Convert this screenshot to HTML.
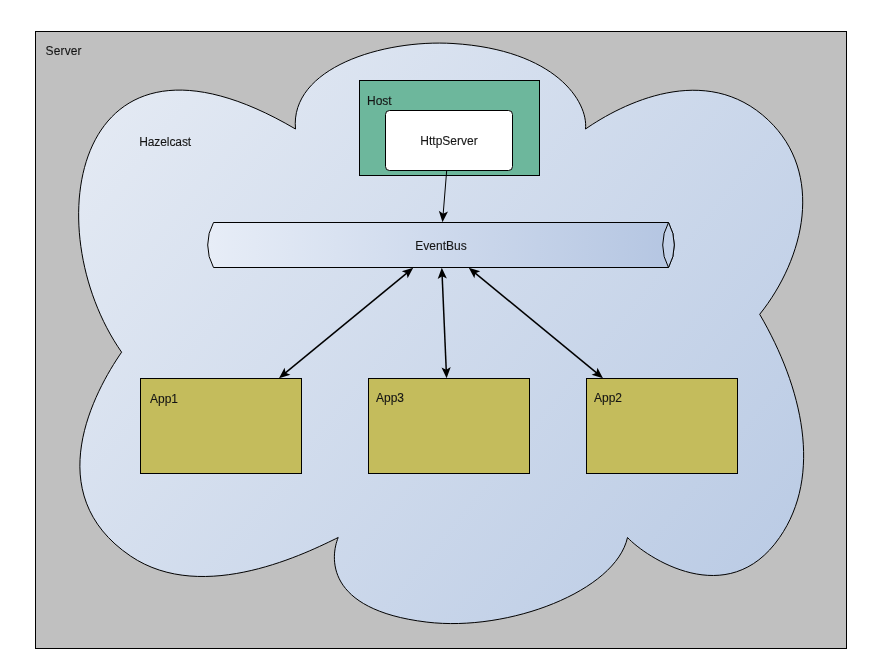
<!DOCTYPE html>
<html>
<head>
<meta charset="utf-8">
<title>Diagram</title>
<style>
html,body{margin:0;padding:0;background:#ffffff;}
body{width:881px;height:667px;overflow:hidden;}
svg{display:block;}
text{font-family:"Liberation Sans",sans-serif;font-size:12px;fill:#141414;stroke:#141414;stroke-width:0.1px;filter:url(#tf);}
</style>
</head>
<body>
<svg width="881" height="667" viewBox="0 0 881 667">
  <defs>
    <linearGradient id="gCloud" gradientUnits="userSpaceOnUse" x1="51" y1="14" x2="792" y2="622">
      <stop offset="0" stop-color="#e8edf5"/>
      <stop offset="1" stop-color="#b9cae4"/>
    </linearGradient>
    <linearGradient id="gPipe" gradientUnits="userSpaceOnUse" x1="208" y1="0" x2="668" y2="0">
      <stop offset="0" stop-color="#e7edf7"/>
      <stop offset="1" stop-color="#b5c6e2"/>
    </linearGradient>
    <filter id="tf" x="-5%" y="-50%" width="110%" height="200%" color-interpolation-filters="sRGB"><feOffset dx="0" dy="0"/></filter>
  </defs>

  <!-- Server -->
  <rect x="35.5" y="31.5" width="811" height="617" fill="#c0c0c0" stroke="#000" stroke-width="1"/>
  <text x="45.6" y="55" textLength="36" lengthAdjust="spacing">Server</text>

  <!-- Hazelcast cloud -->
  <path d="M121.6 352.2 C34.7 227.8 73.3 -1.5 295.5 129.0 C289.8 67.9 382.9 39.2 453.0 43.5 C555.6 49.8 588.4 101.8 585.5 129.0 C621.0 104.4 705.6 60.5 768.4 120.2 C824.4 173.3 804.9 257.8 759.7 314.3 C802.4 387.4 823.0 475.0 779.5 537.6 C727.8 612.2 645.6 557.0 627.5 537.5 C615.7 591.0 508.8 632.0 426.8 622.1 C323.7 609.7 330.7 555.9 338.2 537.5 C310.0 551.2 203.7 605.6 130.6 556.1 C38.2 493.5 95.2 390.2 121.6 352.2 Z"
        fill="url(#gCloud)" stroke="#000" stroke-width="1" stroke-linejoin="miter"/>
  <text x="139.2" y="146" textLength="52" lengthAdjust="spacing">Hazelcast</text>

  <!-- Host -->
  <rect x="359.5" y="80.5" width="180" height="95" fill="#6db79c" stroke="#000" stroke-width="1"/>
  <text x="367" y="105">Host</text>
  <rect x="385.5" y="110.5" width="127" height="60" rx="4" ry="4" fill="#ffffff" stroke="#000" stroke-width="1"/>
  <text x="449" y="145" text-anchor="middle">HttpServer</text>

  <!-- EventBus pipe -->
  <path d="M213.5 222.5 L668.5 222.5 A46.5 46.5 0 0 1 668.5 267.5 L213.5 267.5 A46.5 46.5 0 0 1 213.5 222.5 Z"
        fill="url(#gPipe)" stroke="#000" stroke-width="1" stroke-linejoin="miter"/>
  <path d="M668.5 222.5 A46.5 46.5 0 0 1 668.5 267.5 A46.5 46.5 0 0 1 668.5 222.5 Z" fill="#c3d1e8" stroke="#000" stroke-width="1" stroke-linejoin="miter"/>
  <text x="441" y="250" text-anchor="middle">EventBus</text>

  <!-- Apps -->
  <rect x="140.5" y="378.5" width="161" height="95" fill="#c4bc5c" stroke="#000" stroke-width="1"/>
  <text x="150" y="403">App1</text>
  <rect x="368.5" y="378.5" width="161" height="95" fill="#c4bc5c" stroke="#000" stroke-width="1"/>
  <text x="376" y="402">App3</text>
  <rect x="586.5" y="378.5" width="151" height="95" fill="#c4bc5c" stroke="#000" stroke-width="1"/>
  <text x="594" y="402">App2</text>

  <!-- Connectors -->
  <g stroke="#000" fill="#000">
    <line x1="446.70" y1="170.50" x2="443.11" y2="214.72" stroke-width="1"/>
    <polygon stroke="none" points="442.50,222.20 447.98,211.61 443.19,213.73 438.81,210.86"/>
    <line x1="407.41" y1="272.56" x2="284.79" y2="373.44" stroke-width="1.5"/>
    <polygon stroke="none" points="413.20,267.80 401.78,271.24 406.64,273.20 407.63,278.34"/>
    <polygon stroke="none" points="279.00,378.20 290.42,374.76 285.56,372.80 284.57,367.66"/>
    <line x1="442.13" y1="275.29" x2="446.27" y2="370.71" stroke-width="1.5"/>
    <polygon stroke="none" points="441.80,267.80 437.68,278.99 442.17,276.29 446.87,278.59"/>
    <polygon stroke="none" points="446.60,378.20 450.72,367.01 446.23,369.71 441.53,367.41"/>
    <line x1="474.59" y1="272.56" x2="597.21" y2="373.44" stroke-width="1.5"/>
    <polygon stroke="none" points="468.80,267.80 474.37,278.34 475.36,273.20 480.22,271.24"/>
    <polygon stroke="none" points="603.00,378.20 597.43,367.66 596.44,372.80 591.58,374.76"/>
  </g>
</svg>
</body>
</html>
